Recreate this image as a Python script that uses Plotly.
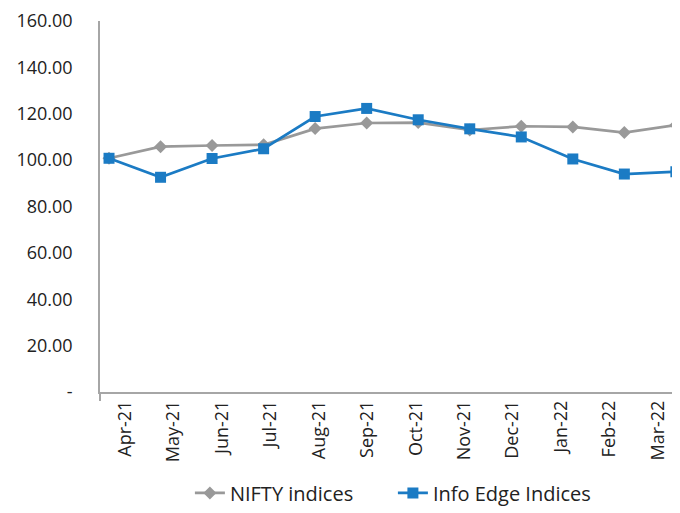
import plotly.graph_objects as go

months = ["Apr-21", "May-21", "Jun-21", "Jul-21", "Aug-21", "Sep-21",
          "Oct-21", "Nov-21", "Dec-21", "Jan-22", "Feb-22", "Mar-22"]
nifty = [100.8, 105.8, 106.3, 106.6, 113.6, 116.0, 116.2, 113.0, 114.6, 114.3, 111.9, 115.1]
info_edge = [100.8, 92.6, 100.7, 104.9, 118.8, 122.3, 117.4, 113.5, 110.0, 100.5, 94.0, 95.0]
y_ticks = [0, 20, 40, 60, 80, 100, 120, 140, 160]
y_tick_text = ["-", "20.00", "40.00", "60.00", "80.00", "100.00", "120.00", "140.00", "160.00"]

FONT = "Open Sans"
idx = list(range(len(months)))
fig = go.Figure()
fig.add_trace(go.Scatter(
    x=idx, y=nifty, name="NIFTY indices",
    mode="lines+markers",
    line=dict(color="#999999", width=2.7),
    marker=dict(symbol="diamond", size=10, color="#999999"),
    cliponaxis=False,
))
fig.add_trace(go.Scatter(
    x=idx, y=info_edge, name="Info Edge Indices",
    mode="lines+markers",
    line=dict(color="#1b7bc4", width=2.7),
    marker=dict(symbol="square", size=11, color="#1b7bc4"),
    cliponaxis=False,
))
# invisible helper trace so the label axis (x2) is drawn
fig.add_trace(go.Scatter(
    x=idx, y=nifty, xaxis="x2", mode="markers",
    marker=dict(opacity=0), showlegend=False, hoverinfo="skip",
))

fig.update_layout(
    width=680, height=513,
    margin=dict(l=92, r=8, t=13, b=120),
    plot_bgcolor="white", paper_bgcolor="white",
    font=dict(family=FONT, size=18, color="#222222"),
    showlegend=True,
    legend=dict(orientation="h", x=0.505, xanchor="center", y=-0.272, yanchor="middle",
                font=dict(family=FONT, size=20, color="#222222"),
                entrywidth=158, entrywidthmode="pixels",
                tracegroupgap=0),
    xaxis=dict(
        range=[-0.175, 11.08], automargin=False,
        tickmode="array", tickvals=[-0.175], ticktext=[""],
        showgrid=False, zeroline=False,
        showline=True, linecolor="#a6a6a6", linewidth=1.5,
        ticks="outside", ticklen=7, tickwidth=1.5, tickcolor="#a6a6a6",
    ),
    xaxis2=dict(
        overlaying="x", anchor="y", side="bottom",
        range=[-0.516, 11.454], automargin=False,
        tickmode="array", tickvals=idx, ticktext=months,
        tickangle=-90, showgrid=False, zeroline=False, showline=False,
        tickfont=dict(family=FONT, size=18, color="#222222"),
        ticks="", ticklabelstandoff=4,
    ),
    yaxis=dict(
        range=[0, 160], automargin=False,
        tickmode="array", tickvals=y_ticks, ticktext=y_tick_text,
        showgrid=False, zeroline=False,
        showline=True, linecolor="#a6a6a6", linewidth=1.5,
        tickfont=dict(family=FONT, size=18, color="#222222"),
        ticks="", ticklabelstandoff=22,
    ),
)

fig.write_html("out.html")
